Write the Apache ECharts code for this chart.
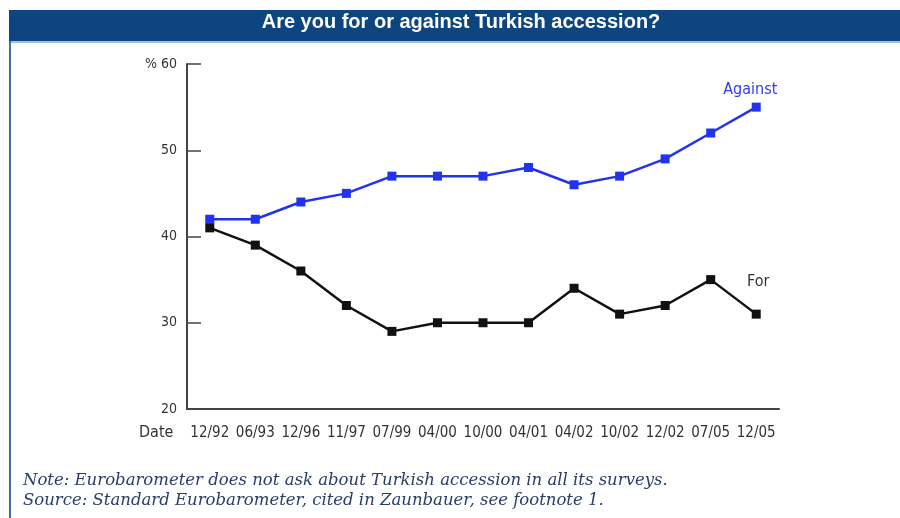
<!DOCTYPE html>
<html>
<head>
<meta charset="utf-8">
<script src="https://cdn.jsdelivr.net/npm/echarts@6/dist/echarts.min.js"></script>
<style>
html, body { margin: 0; padding: 0; background: #fff; }
#chart { width: 900px; height: 518px; }
</style>
</head>
<body>
<div id="chart"></div>
<script>
var dates = ['12/92', '06/93', '12/96', '11/97', '07/99', '04/00', '10/00', '04/01', '04/02', '10/02', '12/02', '07/05', '12/05'];
var againstValues = [42, 42, 44, 45, 47, 47, 47, 48, 46, 47, 49, 52, 55];
var forValues = [41, 39, 36, 32, 29, 30, 30, 30, 34, 31, 32, 35, 31];
var yTicks = [20, 30, 40, 50, 60];

var axisFont = "'DejaVu Sans Condensed', sans-serif";

// put a label only on the last point of a series
function withEndLabel(values, text, color, dist, dx) {
    return values.map(function (v, i) {
        if (i !== values.length - 1) return v;
        return {
            value: v,
            label: {
                show: true, position: 'top', distance: dist, offset: [dx, 0], formatter: text,
                color: color, fontSize: 16, fontFamily: axisFont
            }
        };
    });
}

var dom = document.getElementById('chart');
var myChart = echarts.init(dom);

var option = {
    animation: false,
    backgroundColor: '#fff',
    grid: { left: 187, right: 121, top: 64, bottom: 109 },
    graphic: [
        { type: 'rect', shape: { x: 9, y: 10, width: 891, height: 31 }, style: { fill: '#0d4580' } },
        { type: 'rect', shape: { x: 9, y: 41, width: 891, height: 2 }, style: { fill: '#9cc0e0' } },
        { type: 'rect', shape: { x: 9, y: 41, width: 2, height: 477 }, style: { fill: '#3d6ea8' } },
        {
            type: 'text', x: 461, y: 12,
            style: { text: 'Are you for or against Turkish accession?', align: 'center', fill: '#fff', font: "bold 20px 'Liberation Sans', sans-serif" }
        },
        {
            type: 'text', left: 139, top: 425,
            style: { text: 'Date', fill: '#333', font: "16px " + axisFont }
        },
        {
            type: 'text', left: 23, top: 472,
            style: { text: 'Note: Eurobarometer does not ask about Turkish accession in all its surveys.', fill: '#2b3d66', font: "italic 16.5px 'DejaVu Serif', serif" }
        },
        {
            type: 'text', left: 23, top: 492,
            style: { text: 'Source: Standard Eurobarometer, cited in Zaunbauer, see footnote 1.', fill: '#2b3d66', font: "italic 16.5px 'DejaVu Serif', serif" }
        }
    ],
    xAxis: {
        type: 'category',
        data: dates,
        boundaryGap: true,
        axisLine: { lineStyle: { color: '#444', width: 2 } },
        axisTick: { inside: true, alignWithLabel: true, length: 9, lineStyle: { color: '#444', width: 1.5 } },
        axisLabel: { color: '#333', fontSize: 15, fontFamily: axisFont, margin: 17, interval: 0 }
    },
    yAxis: {
        type: 'value',
        min: yTicks[0],
        max: yTicks[yTicks.length - 1],
        interval: 10,
        splitLine: { show: false },
        axisLine: { show: true, lineStyle: { color: '#444', width: 2 } },
        axisTick: { show: true, inside: true, length: 14, lineStyle: { color: '#444', width: 1.5 } },
        axisLabel: {
            color: '#333', fontSize: 14, fontFamily: axisFont, margin: 10,
            formatter: function (v) { return v === 60 ? '% 60' : String(v); }
        }
    },
    series: [
        {
            name: 'Against',
            type: 'line',
            data: withEndLabel(againstValues, 'Against', '#2a3df0', 5, -6),
            symbol: 'rect',
            symbolSize: 9,
            lineStyle: { color: '#2233ee', width: 2.5 },
            itemStyle: { color: '#2233ee' }
        },
        {
            name: 'For',
            type: 'line',
            data: withEndLabel(forValues, 'For', '#333', 20, 2),
            symbol: 'rect',
            symbolSize: 9,
            lineStyle: { color: '#111', width: 2.5 },
            itemStyle: { color: '#111' }
        }
    ]
};

if (option && typeof option === 'object') {
    myChart.setOption(option, true);
}
</script>
</body>
</html>
